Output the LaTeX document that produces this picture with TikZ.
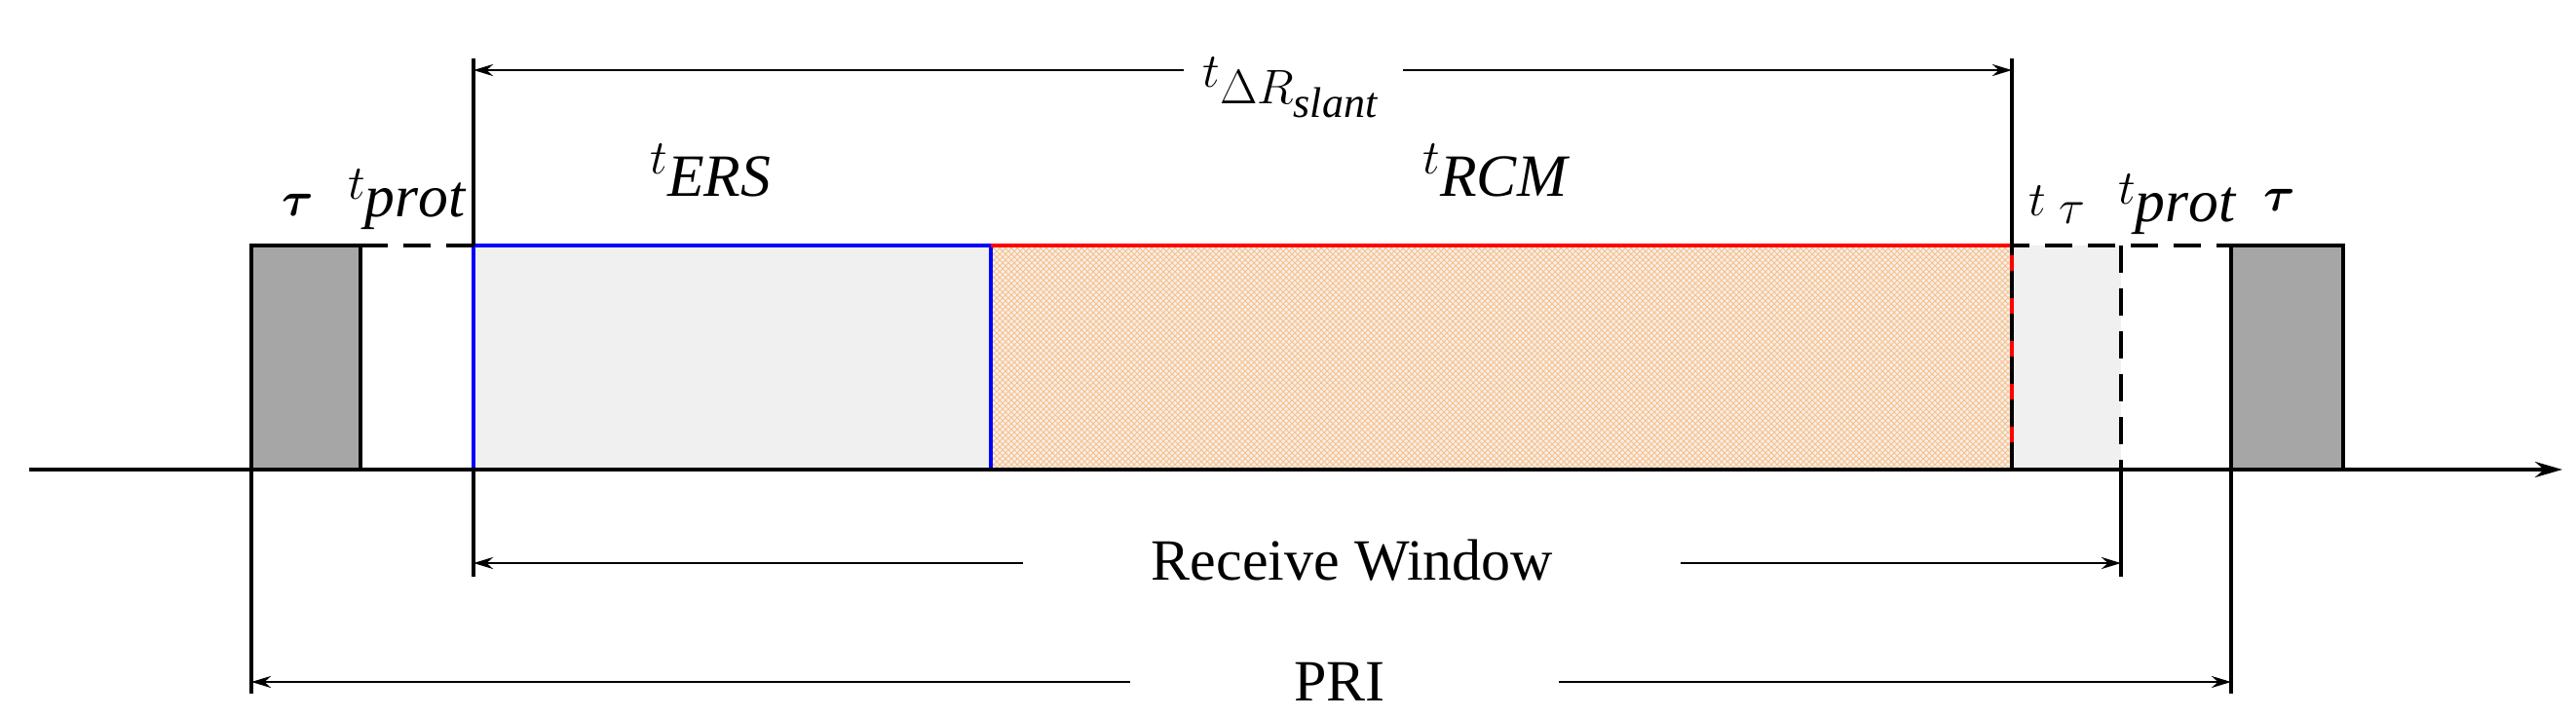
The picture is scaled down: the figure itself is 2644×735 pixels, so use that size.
\documentclass[tikz,border=0pt]{standalone}
\usepackage{amsmath,bm}
\usepackage{fontspec}
\setmainfont{Liberation Serif}
\usetikzlibrary{arrows.meta,patterns}
\begin{document}
\begin{tikzpicture}[x=0.5pt,y=-0.5pt,
  ln/.style={line width=2pt},
  dim/.style={line width=1.4pt,-{Stealth[length=10pt,width=6pt]}},
  lab/.style={font=\fontsize{44}{48}\selectfont\itshape, inner sep=0},
  txt/.style={font=\fontsize{30}{34}\selectfont, inner sep=0}]
\useasboundingbox (0,0) rectangle (2644,735);
% boxes
\fill[gray!70] (258,252) rectangle (370,482);
\draw[ln] (258,482) -- (258,252) -- (370,252) -- (370,482);
\fill[gray!70] (2290,252) rectangle (2405,482);
\draw[ln] (2290,482) -- (2290,252) -- (2405,252) -- (2405,482);
\fill[black!6] (486,252) rectangle (1017,482);
\fill[black!6] (1017,252) rectangle (2065,482);
\fill[pattern=crosshatch, pattern color=orange!50] (1017,252) rectangle (2065,482);
\fill[black!6] (2065,252) rectangle (2177,482);
\draw[ln,blue] (486,482) -- (486,252) -- (1017,252) -- (1017,482);
\draw[ln,red] (1017,252) -- (2065,252) -- (2065,482);
\draw[ln,dash pattern=on 14pt off 8pt] (370,252) -- (486,252);
\draw[ln,dash pattern=on 14pt off 8pt] (2065,482) -- (2065,252) -- (2290,252);
\draw[ln,dash pattern=on 14pt off 8pt] (2177,252) -- (2177,482);
% axis
\coordinate (a0) at (30,482); \coordinate (a1) at (2630,482);
\draw[ln,-{Stealth[length=14pt,width=8pt]}] (a0) -- (a1);
% top dimension
\coordinate (t0) at (486,72); \coordinate (t1) at (2065,72);
\draw[ln] (486,60) -- (486,252); \draw[ln] (2065,60) -- (2065,252);
\draw[dim,{Stealth[length=10pt,width=6pt]}-{Stealth[length=10pt,width=6pt]}] (t0) -- (t1);
\fill[white] (1215,40) rectangle (1440,150);
\node[lab] (tdr) at (1325,90) {$t_{\Delta R_{\mathit{slant}}}$};
% receive window
\draw[ln] (486,482) -- (486,592); \draw[ln] (2177,482) -- (2177,592);
\coordinate (r0) at (486,578); \coordinate (r0b) at (1050,578);
\coordinate (r1) at (2177,578); \coordinate (r1b) at (1725,578);
\draw[dim] (r0b) -- (r0); \draw[dim] (r1b) -- (r1);
\node[txt] (rw) at (1388,575) {Receive Window};
% PRI
\draw[ln] (258,482) -- (258,712); \draw[ln] (2290,482) -- (2290,712);
\coordinate (p0) at (258,700); \coordinate (p0b) at (1160,700);
\coordinate (p1) at (2290,700); \coordinate (p1b) at (1600,700);
\draw[dim] (p0b) -- (p0); \draw[dim] (p1b) -- (p1);
\node[txt] (pri) at (1375,700) {PRI};
% labels
\node[lab] (tau1) at (306,210) {$\bm{\tau}$};
\node[lab] (tp1) at (418,205) {$t_{\mathit{prot}}$};
\node[lab] (ters) at (730,175) {$t_{\mathit{ERS}}$};
\node[lab] (trcm) at (1535,175) {$t_{\mathit{RCM}}$};
\node[lab] (ttau) at (2112,210) {$t_{\;\tau}$};
\node[lab] (tp2) at (2235,210) {$t_{\mathit{prot}}$};
\node[lab] (tau2) at (2340,205) {$\bm{\tau}$};
\end{tikzpicture}
\end{document}
